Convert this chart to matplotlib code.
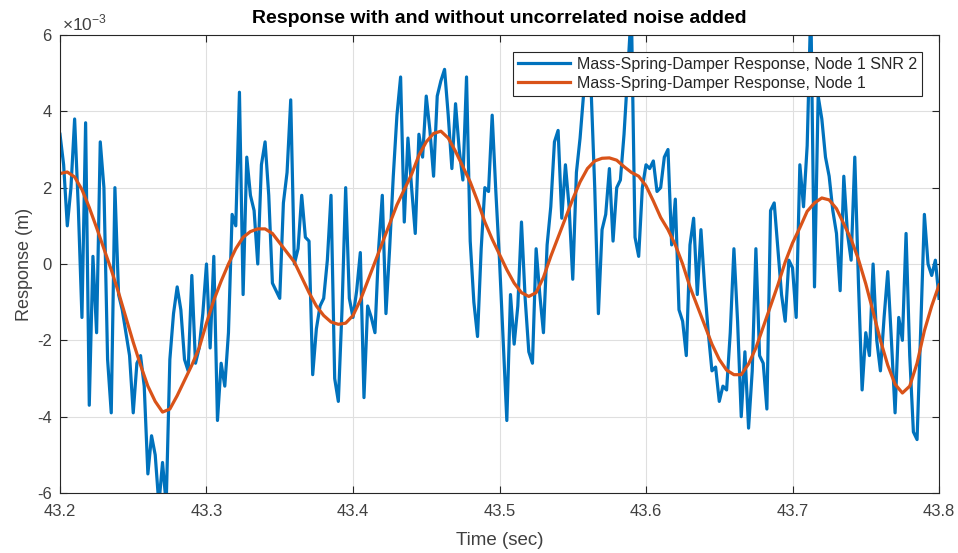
import matplotlib
matplotlib.use("Agg")
import matplotlib.pyplot as plt
import numpy as np

plt.rcParams["font.family"] = ["Liberation Sans", "DejaVu Sans"]
plt.rcParams["axes.unicode_minus"] = False
plt.rcParams["mathtext.fontset"] = "custom"
plt.rcParams["mathtext.rm"] = "Liberation Sans"

# time bases (sec)
t_noisy_start, t_noisy_step, n_noisy = 43.2, 0.0025, 241
t_clean_start, t_clean_step, n_clean = 43.2, 0.005, 121

# response with noise, SNR 2 (x1e-3 m)
resp_noisy = [
    3.4, 2.6, 1.0, 2.0, 3.8, 1.5, -1.4, 3.7, -3.7, 0.2,
    -1.8, 3.2, 2.0, -2.5, -3.9, 2.0, -0.8, -1.2, -1.8, -2.4,
    -3.9, -2.6, -2.4, -3.2, -5.5, -4.5, -5.0, -6.3, -5.2, -6.3,
    -2.5, -1.3, -0.6, -1.2, -2.5, -2.8, -0.3, -2.6, -2.2, -1.3,
    0.0, -2.2, 0.2, -4.1, -2.6, -3.2, -1.8, 1.3, 1.0, 4.5,
    -0.8, 2.8, 1.8, 1.4, 0.0, 2.6, 3.2, 1.8, -0.5, -0.7,
    -0.9, 1.6, 2.4, 4.3, 0.0, 0.4, 1.8, 0.7, 0.6, -2.9,
    -1.7, -1.1, -0.9, 0.1, 1.8, -3.0, -3.6, -1.2, 2.0, -0.9,
    -1.4, -0.7, 0.3, -3.5, -1.1, -1.4, -1.8, 0.4, 1.8, -1.3,
    0.4, 2.3, 3.9, 4.9, 1.1, 3.3, 2.0, 0.8, 3.4, 2.8,
    4.4, 3.5, 2.3, 4.4, 4.8, 5.1, 3.9, 2.5, 4.2, 3.0,
    2.2, 4.9, 0.6, -1.0, -1.9, 0.4, 2.0, 1.9, 3.9, 1.9,
    0.1, -2.0, -4.1, -0.8, -2.1, -1.1, 1.1, -0.9, -2.3, -2.6,
    0.4, -0.8, -1.8, 0.5, 1.5, 3.2, 3.5, 1.2, 2.6, 1.5,
    -0.4, 2.4, 3.3, 4.5, 4.8, 4.6, 2.0, -1.3, 0.9, 1.3,
    2.5, 0.6, 2.0, 2.2, 3.4, 5.0, 6.7, 0.7, 0.2, 2.0,
    2.6, 2.5, 2.7, 1.9, 2.0, 2.8, 3.0, 0.5, 1.7, -1.2,
    -1.5, -2.4, 0.5, 1.2, -0.8, 0.9, -0.6, -1.8, -2.8, -2.7,
    -3.6, -3.2, -3.3, -1.8, 0.4, -1.5, -4.0, -2.3, -4.3, -2.8,
    0.4, -2.4, -2.6, -3.8, 1.4, 1.6, 0.4, -0.8, -1.5, 0.1,
    -0.1, -1.4, 2.6, 1.5, 3.1, 6.8, -0.6, 4.4, 3.8, 2.8,
    2.3, 1.4, 0.8, -0.7, 2.3, 0.8, 0.1, 2.8, -0.5, -3.3,
    -1.8, -2.4, 0.0, -2.0, -2.8, -1.4, -0.2, -2.0, -3.9, -1.4,
    -2.0, 0.8, -2.4, -4.4, -4.6, -1.7, 1.3, 0.0, -0.3, 0.1,
    -0.9,
]

# clean response (x1e-3 m)
resp_clean = [
    2.37, 2.41, 2.28, 1.95, 1.48, 0.95, 0.40, -0.15, -0.75, -1.40,
    -2.05, -2.65, -3.20, -3.60, -3.88, -3.80, -3.45, -3.05, -2.65, -2.20,
    -1.55, -0.95, -0.45, 0.00, 0.40, 0.70, 0.85, 0.92, 0.92, 0.80,
    0.55, 0.30, 0.05, -0.35, -0.75, -1.10, -1.35, -1.52, -1.58, -1.55,
    -1.35, -0.95, -0.45, 0.05, 0.55, 1.05, 1.55, 1.95, 2.35, 2.85,
    3.20, 3.42, 3.48, 3.30, 2.95, 2.55, 2.15, 1.65, 1.10, 0.65,
    0.25, -0.15, -0.50, -0.75, -0.85, -0.75, -0.35, 0.20, 0.70, 1.20,
    1.70, 2.15, 2.50, 2.70, 2.77, 2.78, 2.72, 2.55, 2.40, 2.30,
    2.05, 1.65, 1.22, 0.90, 0.50, 0.00, -0.60, -1.10, -1.60, -2.10,
    -2.50, -2.78, -2.90, -2.90, -2.62, -2.20, -1.65, -1.10, -0.55, 0.05,
    0.55, 0.95, 1.38, 1.60, 1.73, 1.68, 1.45, 1.05, 0.65, 0.12,
    -0.52, -1.25, -2.00, -2.65, -3.15, -3.38, -3.20, -2.60, -1.75, -1.10,
    -0.55,
]

x_ticks = [43.2, 43.3, 43.4, 43.5, 43.6, 43.7, 43.8]
y_ticks = [-6, -4, -2, 0, 2, 4, 6]

t_noisy = t_noisy_start + t_noisy_step * np.arange(n_noisy)
t_clean = t_clean_start + t_clean_step * np.arange(n_clean)

dark = "#262626"
label_gray = "#404040"
fig = plt.figure(figsize=(9.58, 5.53), dpi=100)
ax = fig.add_axes([0.0626, 0.1085, 0.9176, 0.8282])

ax.plot(t_noisy, resp_noisy, color="#0072BD", lw=2.3,
        label="Mass-Spring-Damper Response, Node 1 SNR 2")
ax.plot(t_clean, resp_clean, color="#D95319", lw=2.3,
        label="Mass-Spring-Damper Response, Node 1")

ax.set_xlim(43.2, 43.8)
ax.set_ylim(-6, 6)
ax.set_xticks(x_ticks)
ax.set_xticklabels([f"{v:.1f}" for v in x_ticks])
ax.set_yticks(y_ticks)
ax.set_yticklabels([str(v) for v in y_ticks])
ax.tick_params(direction="in", length=5, width=0.8, color=dark,
               labelcolor=label_gray, labelsize=12,
               top=True, right=True, labeltop=False, labelright=False)
ax.tick_params(axis="x", pad=8)
ax.tick_params(axis="y", pad=6)
ax.grid(True, color="#dfdfdf", lw=0.8)
ax.set_axisbelow(True)
for s in ax.spines.values():
    s.set_color(dark)
    s.set_linewidth(0.8)

ax.text(0.002, 1.004, r"$\times\mathrm{10}^{\mathrm{-3}}$", transform=ax.transAxes,
        fontsize=12.5, color=label_gray, ha="left", va="bottom")
ax.set_xlabel("Time (sec)", fontsize=13.5, color=label_gray, labelpad=9)
ax.set_ylabel("Response (m)", fontsize=13, color=label_gray, labelpad=3)
ax.set_title("Response with and without uncorrelated noise added",
             fontsize=14, fontweight="bold", color="black", pad=9)

leg = ax.legend(loc="upper right", bbox_to_anchor=(0.981, 0.963),
                borderaxespad=0, fontsize=11.5, fancybox=False,
                framealpha=1, edgecolor=dark, handlelength=3.3,
                handletextpad=0.45, borderpad=0.3, labelspacing=0.25)
leg.get_frame().set_linewidth(0.8)
for txt in leg.get_texts():
    txt.set_color(dark)

fig.savefig("out.png", dpi=100)
